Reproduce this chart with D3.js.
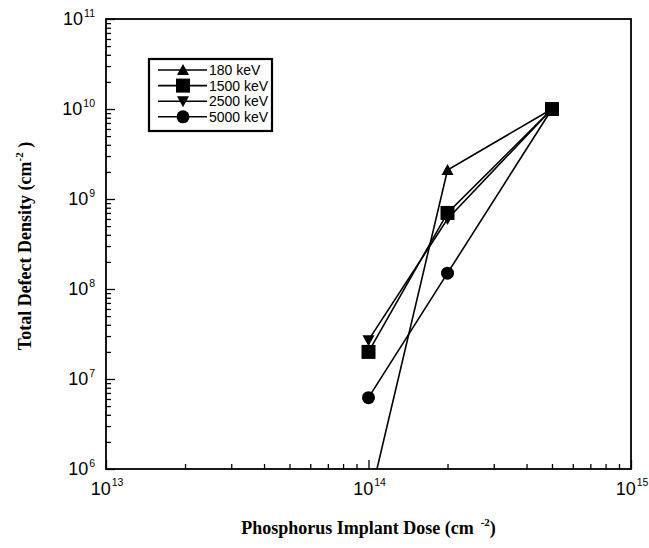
<!DOCTYPE html>
<html>
<head>
<meta charset="utf-8">
<script src="https://cdn.jsdelivr.net/npm/d3@7"></script>
<style>
  html, body { margin: 0; padding: 0; background: #fff; }
  svg { display: block; }
</style>
</head>
<body>
<svg id="chart" width="649" height="548"></svg>
<script>
// ---- data ----
const doses = [1e14, 2e14, 5e14];
const seriesNames = ["180 keV", "1500 keV", "2500 keV", "5000 keV"];
const series180 = [4e5, 2.1e9, 1e10];
const series1500 = [2e7, 7e8, 1e10];
const series2500 = [2.7e7, 6e8, 1e10];
const series5000 = [6.2e6, 1.5e8, 1e10];
const markerTypes = ["triangle", "square", "triangleDown", "circle"];
const xMajorExps = [13, 14, 15];
const yMajorExps = [6, 7, 8, 9, 10, 11];
const xTitle = "Phosphorus Implant Dose (cm";
const yTitle = "Total Defect Density (cm";

const allSeries = [series180, series1500, series2500, series5000];

(function () {
// ---- layout ----
const svg = d3.select("#chart");
const pL = 106, pR = 631, pT = 19, pB = 469;

const x = d3.scaleLog().domain([1e13, 1e15]).range([pL, pR]);
const y = d3.scaleLog().domain([1e6, 1e11]).range([pB, pT]);

const sansFont = "'Liberation Sans', Arial, Helvetica, sans-serif";
const serifFont = "'Liberation Serif', 'Times New Roman', serif";

function minorTicks(lo, hi) {
  const out = [];
  for (let e = lo; e < hi; e++) {
    for (let m = 2; m <= 9; m++) out.push(m * Math.pow(10, e));
  }
  return out;
}

// ---- axes (inward ticks) ----
const xMinor = d3.axisBottom(x).tickValues(minorTicks(13, 15)).tickSize(-5).tickFormat("");
const xMajor = d3.axisBottom(x).tickValues(xMajorExps.map(e => Math.pow(10, e))).tickSize(-9).tickFormat("");
const yMinor = d3.axisLeft(y).tickValues(minorTicks(6, 11)).tickSize(-5).tickFormat("");
const yMajor = d3.axisLeft(y).tickValues(yMajorExps.map(e => Math.pow(10, e))).tickSize(-9).tickFormat("");

function styleAxis(g) {
  g.select(".domain").remove();
  g.selectAll(".tick line").attr("stroke", "#000").attr("stroke-width", 1.3);
}
svg.append("g").attr("transform", `translate(0,${pB})`).call(xMinor).call(styleAxis);
svg.append("g").attr("transform", `translate(0,${pB})`).call(xMajor).call(styleAxis);
svg.append("g").attr("transform", `translate(${pL},0)`).call(yMinor).call(styleAxis);
svg.append("g").attr("transform", `translate(${pL},0)`).call(yMajor).call(styleAxis);

// frame
svg.append("rect")
  .attr("x", pL).attr("y", pT)
  .attr("width", pR - pL).attr("height", pB - pT)
  .attr("fill", "none").attr("stroke", "#000").attr("stroke-width", 1.8);

// ---- tick labels ----
xMajorExps.forEach(e => {
  const t = svg.append("text")
    .attr("x", x(Math.pow(10, e)) + 1)
    .attr("y", pB + 26)
    .attr("text-anchor", "middle")
    .attr("font-family", sansFont)
    .attr("font-size", 18)
    .attr("fill", "#000");
  t.append("tspan").text("10");
  t.append("tspan").attr("dx", 1).attr("dy", -9).attr("font-size", 10.5).text(String(e));
});

yMajorExps.forEach(e => {
  const t = svg.append("text")
    .attr("x", pL - 11)
    .attr("y", y(Math.pow(10, e)) + 6)
    .attr("text-anchor", "end")
    .attr("font-family", sansFont)
    .attr("font-size", 18)
    .attr("fill", "#000");
  t.append("tspan").text("10");
  t.append("tspan").attr("dx", 1).attr("dy", -8).attr("font-size", 10.5).text(String(e));
});

// ---- axis titles ----
const xt = svg.append("text")
  .attr("x", (pL + pR) / 2)
  .attr("y", 534)
  .attr("text-anchor", "middle")
  .attr("font-family", serifFont)
  .attr("font-weight", "bold")
  .attr("font-size", 18)
  .attr("fill", "#000");
xt.append("tspan").text(xTitle);
xt.append("tspan").attr("dx", 7).attr("dy", -8).attr("font-size", 11).text("-2");
xt.append("tspan").attr("dy", 8).text(")");

const yt = svg.append("text")
  .attr("transform", `translate(31,${(pT + pB) / 2 + 2}) rotate(-90)`)
  .attr("text-anchor", "middle")
  .attr("font-family", serifFont)
  .attr("font-weight", "bold")
  .attr("font-size", 18)
  .attr("fill", "#000");
yt.append("tspan").text(yTitle);
yt.append("tspan").attr("dy", -8).attr("font-size", 11).text("-2");
yt.append("tspan").attr("dy", 8).text(" )");

// ---- markers ----
function drawMarker(g, type, cx, cy) {
  if (type === "triangle") {
    g.append("path").attr("d", `M${cx},${cy - 6}L${cx + 6},${cy + 5}L${cx - 6},${cy + 5}Z`).attr("fill", "#000");
  } else if (type === "triangleDown") {
    g.append("path").attr("d", `M${cx},${cy + 6}L${cx + 6},${cy - 5}L${cx - 6},${cy - 5}Z`).attr("fill", "#000");
  } else if (type === "square") {
    g.append("rect").attr("x", cx - 7).attr("y", cy - 7).attr("width", 14).attr("height", 14).attr("fill", "#000");
  } else if (type === "circle") {
    g.append("circle").attr("cx", cx).attr("cy", cy).attr("r", 6.5).attr("fill", "#000");
  }
}

svg.append("defs").append("clipPath").attr("id", "plotClip")
  .append("rect").attr("x", pL).attr("y", pT).attr("width", pR - pL).attr("height", pB - pT);

const plot = svg.append("g").attr("clip-path", "url(#plotClip)");
const line = d3.line().x(d => x(d[0])).y(d => y(d[1]));

allSeries.forEach((vals) => {
  const pts = doses.map((d, j) => [d, vals[j]]);
  plot.append("path").datum(pts)
    .attr("d", line)
    .attr("fill", "none")
    .attr("stroke", "#000")
    .attr("stroke-width", 1.6);
});
[0, 2, 1, 3].forEach(i => {
  doses.forEach((d, j) => {
    drawMarker(plot, markerTypes[i], x(d), y(allSeries[i][j]));
  });
});

// ---- legend ----
const lg = svg.append("g");
const lgX = 149, lgY = 59, lgW = 123, lgH = 72;
lg.append("rect").attr("x", lgX).attr("y", lgY).attr("width", lgW).attr("height", lgH)
  .attr("fill", "#fff").attr("stroke", "#000").attr("stroke-width", 2.2);
seriesNames.forEach((name, i) => {
  const ly = lgY + 11 + i * 15.6;
  lg.append("line").attr("x1", lgX + 9).attr("x2", lgX + 58).attr("y1", ly).attr("y2", ly)
    .attr("stroke", "#000").attr("stroke-width", 1.6);
  drawMarker(lg, markerTypes[i], lgX + 34, ly);
  lg.append("text").attr("x", lgX + 60).attr("y", ly + 5)
    .attr("font-family", sansFont).attr("font-size", 14).attr("fill", "#000")
    .text(name);
});
})();
</script>
</body>
</html>
